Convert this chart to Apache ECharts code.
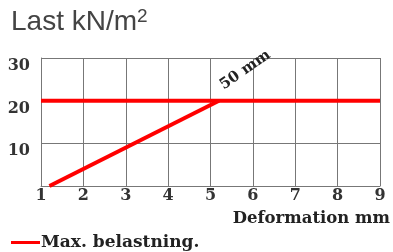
<!DOCTYPE html>
<html>
<head>
<meta charset="utf-8">
<script src="https://cdn.jsdelivr.net/npm/echarts@6/dist/echarts.min.js"></script>
<style>
  html, body { margin: 0; padding: 0; background: #fff; }
  #chart { width: 393px; height: 252px; }
</style>
</head>
<body>
<div id="chart"></div>
<script>
// deformation (mm) on x, load (kN/m2) on y
const xTicks = [1, 2, 3, 4, 5, 6, 7, 8, 9];
const yTicks = [10, 20, 30];
const maxLoad = [[1, 20], [9, 20]];
const deformLine = [[1.2, 0], [5.2, 20]];
const deformLabel = '50 mm';

const serif = '"DejaVu Serif", serif';
const chart = echarts.init(document.getElementById('chart'));

chart.setOption({
    backgroundColor: '#fff',
    animation: false,
    title: {
        text: 'Last kN/m{sup|2}',
        left: 6,
        top: 2,
        textStyle: {
            fontFamily: '"Liberation Sans", Arial, sans-serif',
            fontWeight: 'normal',
            fontSize: 28,
            color: '#444',
            rich: {
                sup: {
                    fontFamily: '"Liberation Sans", Arial, sans-serif',
                    fontSize: 19,
                    color: '#444',
                    verticalAlign: 'top',
                    padding: [0, 0, 12, 0]
                }
            }
        }
    },
    legend: {
        left: 6,
        top: 229,
        icon: 'rect',
        itemWidth: 29,
        itemHeight: 3,
        itemGap: 4,
        data: ['Max. belastning.'],
        textStyle: {
            fontFamily: serif,
            fontWeight: 'bold',
            fontSize: 17,
            color: '#222',
            padding: [0, 0, 0, -4]
        }
    },
    grid: {
        left: 41,
        right: 13,
        top: 58,
        bottom: 66
    },
    xAxis: {
        type: 'value',
        min: xTicks[0],
        max: xTicks[xTicks.length - 1],
        interval: 1,
        name: 'Deformation mm',
        nameLocation: 'end',
        nameGap: 10,
        nameTextStyle: {
            fontFamily: serif,
            fontWeight: 'bold',
            fontSize: 16.5,
            color: '#222',
            align: 'right',
            verticalAlign: 'top',
            padding: [24, 0, 0, 0]
        },
        axisLine: { lineStyle: { color: '#777', width: 1 } },
        axisTick: { show: false },
        axisLabel: {
            margin: 2,
            fontFamily: serif,
            fontWeight: 'bold',
            fontSize: 16,
            color: '#333'
        },
        splitLine: { show: true, lineStyle: { color: '#777', width: 1 } }
    },
    yAxis: {
        type: 'value',
        min: 0,
        max: yTicks[yTicks.length - 1],
        interval: 10,
        axisLine: { show: true, lineStyle: { color: '#777', width: 1 } },
        axisTick: { show: false },
        axisLabel: {
            margin: 11,
            fontFamily: serif,
            fontWeight: 'bold',
            fontSize: 16,
            color: '#333',
            verticalAlign: 'top',
            formatter: function (v) {
                return yTicks.indexOf(v) >= 0 ? String(v) : '';
            }
        },
        splitLine: { show: true, lineStyle: { color: '#777', width: 1 } }
    },
    series: [
        {
            name: 'Max. belastning.',
            type: 'line',
            data: maxLoad,
            symbol: 'none',
            lineStyle: { color: '#ff0000', width: 4 },
            itemStyle: { color: '#ff0000' },
            z: 3
        },
        {
            name: 'deform',
            type: 'line',
            data: deformLine.map(function (p, i) {
                if (i !== deformLine.length - 1) return p;
                return {
                    value: p,
                    label: {
                        show: true,
                        formatter: deformLabel,
                        position: 'top',
                        rotate: 35,
                        align: 'left',
                        verticalAlign: 'bottom',
                        offset: [7, 2],
                        fontFamily: serif,
                        fontWeight: 'bold',
                        fontSize: 15,
                        color: '#222'
                    }
                };
            }),
            symbol: 'circle',
            symbolSize: 1,
            showAllSymbol: true,
            lineStyle: { color: '#ff0000', width: 4 },
            itemStyle: { color: '#ff0000' },
            z: 3
        }
    ]
});
</script>
</body>
</html>
